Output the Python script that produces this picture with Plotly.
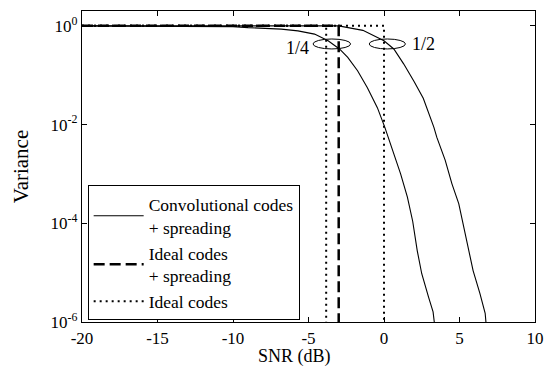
import plotly.graph_objects as go

# ---- data ----
snr_conv14 = [-20, -15, -12, -10, -9, -6.8, -5.7, -4.6, -3.7, -2.95, -2.4, -1.75, -1.1,
              -0.44, 0.05, 0.65, 1.1, 1.55, 1.9, 2.2, 2.5, 2.95, 3.25, 3.33]
var_conv14 = [1.0, 1.0, 0.989, 0.966, 0.92, 0.86, 0.79, 0.68, 0.50, 0.34, 0.23, 0.123, 0.056,
              0.022, 8.9e-3, 2.6e-3, 1.0e-3, 3.4e-4, 1.1e-4, 2.8e-5, 9.5e-6, 3.2e-6, 1.6e-6, 1.0e-6]

snr_conv12 = [-20, -3, -1.4, -0.65, 0.0, 0.65, 1.3, 2.0, 2.6, 3.3, 3.5, 4.05, 4.5, 4.95,
              5.15, 5.4, 5.9, 6.35, 6.7, 6.75]
var_conv12 = [1.0, 1.0, 0.81, 0.63, 0.50, 0.34, 0.17, 0.074, 0.034, 8.9e-3, 5.5e-3, 1.9e-3,
              6.3e-4, 2.5e-4, 1.26e-4, 6.2e-5, 1.1e-5, 3.8e-6, 1.5e-6, 1e-6]

snr_ideal_spread = [-20, -3, -3]
var_ideal_spread = [1.0, 1.0, 1e-6]

snr_ideal_half = [-20, 0, 0]
var_ideal_half = [1.0, 1.0, 1e-6]

snr_ideal_quarter = [-20, -3.83, -3.83]
var_ideal_quarter = [1.0, 1.0, 1e-6]

x_ticks = [-20, -15, -10, -5, 0, 5, 10]
x_tick_text = ["-20", "-15", "-10", "-5", "0", "5", "10"]
y_ticks = [1e-6, 1e-4, 1e-2, 1e0]
y_tick_text = ["10<sup>-6</sup>", "10<sup>-4</sup>", "10<sup>-2</sup>", "10<sup>0</sup>"]

FONT = "Liberation Serif, Times New Roman, serif"

fig = go.Figure()

fig.add_trace(go.Scatter(x=snr_conv14, y=var_conv14, mode="lines",
                         line=dict(color="black", width=1.1),
                         name="Convolutional codes<br>+ spreading", legendrank=1))
fig.add_trace(go.Scatter(x=snr_conv12, y=var_conv12, mode="lines",
                         line=dict(color="black", width=1.1),
                         showlegend=False))
fig.add_trace(go.Scatter(x=snr_ideal_spread, y=var_ideal_spread, mode="lines",
                         line=dict(color="black", width=2.5, dash="11px,5px"),
                         name="Ideal codes<br>+ spreading", legendrank=2))
fig.add_trace(go.Scatter(x=snr_ideal_half, y=var_ideal_half, mode="lines",
                         line=dict(color="black", width=2, dash="2px,4px"),
                         name="Ideal codes", legendrank=3))
fig.add_trace(go.Scatter(x=snr_ideal_quarter, y=var_ideal_quarter, mode="lines",
                         line=dict(color="black", width=2, dash="2px,4px"),
                         showlegend=False))

# ellipses marking the code-rate curves
fig.add_shape(type="circle", xref="x", yref="paper", x0=-4.70, x1=-2.21, y0=0.878, y1=0.910,
              line=dict(color="black", width=1))
fig.add_shape(type="circle", xref="x", yref="paper", x0=-0.98, x1=1.42, y0=0.878, y1=0.910,
              line=dict(color="black", width=1))
fig.add_annotation(x=-4.85, y=0.882, xref="x", yref="paper", text="1/4", showarrow=False,
                   xanchor="right", yanchor="middle", font=dict(family=FONT, size=18, color="black"))
fig.add_annotation(x=1.75, y=0.893, xref="x", yref="paper", text="1/2", showarrow=False,
                   xanchor="left", yanchor="middle", font=dict(family=FONT, size=18, color="black"))
# x-axis title
fig.add_annotation(x=-5.9, y=-0.07, xref="x", yref="paper", text="SNR (dB)", showarrow=False,
                   xanchor="center", yanchor="top", font=dict(family=FONT, size=18, color="black"))

fig.update_layout(
    width=554, height=369,
    margin=dict(l=82, r=15, t=10, b=47),
    paper_bgcolor="white", plot_bgcolor="white",
    font=dict(family=FONT, size=17, color="black"),
    legend=dict(x=0.0125, y=0.439, xanchor="left", yanchor="top",
                bordercolor="black", borderwidth=1, bgcolor="white",
                font=dict(family=FONT, size=17.5, color="black"),
                itemwidth=50, tracegroupgap=0),
    xaxis=dict(range=[-20, 10], tickvals=x_ticks, ticktext=x_tick_text,
               showline=True, linecolor="black", linewidth=1.2, mirror="ticks",
               ticks="inside", ticklen=5, tickcolor="black", showgrid=False, zeroline=False,
               tickfont=dict(family=FONT, size=17)),
    yaxis=dict(type="log", range=[-6, 0.301], tickvals=y_ticks, ticktext=y_tick_text,
               showline=True, linecolor="black", linewidth=1.2, mirror="ticks",
               ticks="inside", ticklen=5, tickcolor="black", showgrid=False, zeroline=False,
               tickfont=dict(family=FONT, size=17),
               title=dict(text="Variance", standoff=16, font=dict(family=FONT, size=21))),
)

fig.write_html("out.html", config={"displayModeBar": False},
               post_script="document.body.style.margin='0px';")
